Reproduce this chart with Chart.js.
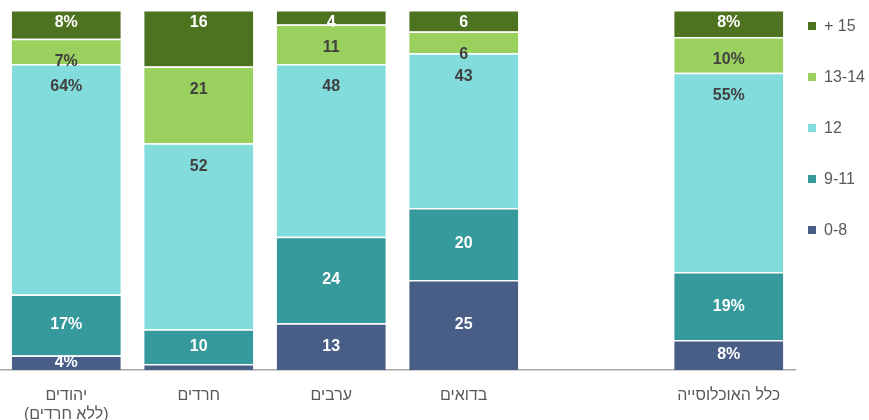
<!DOCTYPE html>
<html>
<head>
<meta charset="utf-8">
<script src="https://cdn.jsdelivr.net/npm/chart.js@4/dist/chart.umd.min.js"></script>
<style>
  html, body { margin: 0; padding: 0; background: #fff; }
  #wrap { width: 869px; height: 420px; position: relative; }
</style>
</head>
<body>
<div id="wrap"><canvas id="c"></canvas></div>
<script>
// categories (empty slot keeps the gap before the total bar)
const categories = [['יהודים', '(ללא חרדים)'], 'חרדים', 'ערבים', 'בדואים', '', 'כלל האוכלוסייה'];
const seriesNames = ['0-8', '9-11', '12', '13-14', '+ 15'];

// share of each years-of-schooling group, percent
const age0_8   = [4, 1.7, 13, 25, null, 8.3];
const age9_11  = [17, 9.6, 24, 20, null, 18.9];
const age12    = [64, 51.7, 48, 43, null, 55.4];
const age13_14 = [7, 21.3, 11, 6, null, 9.9];
const age15    = [8, 15.7, 4, 6, null, 7.5];

const colors = ['#485e87', '#36999b', '#82dcdc', '#99d05e', '#4d7320'];
const labelColors = ['#ffffff', '#ffffff', '#404040', '#404040', '#ffffff'];
const percentBars = [0, 5]; // bars whose labels carry a % sign

const FONT = '"Liberation Sans", Arial, sans-serif';

const valueLabels = {
  id: 'valueLabels',
  afterDatasetsDraw(chart) {
    const ctx = chart.ctx;
    ctx.save();
    ctx.font = 'bold 16px ' + FONT;
    ctx.textAlign = 'center';
    ctx.textBaseline = 'middle';
    chart.data.datasets.forEach((ds, di) => {
      const meta = chart.getDatasetMeta(di);
      meta.data.forEach((bar, i) => {
        const v = ds.data[i];
        if (v == null || v < 3) return;
        const top = Math.min(bar.y, bar.base), bottom = Math.max(bar.y, bar.base);
        let y = (top + bottom) / 2;
        if (di === 2 || di === 3) y = top + 23;
        if (di === 4) y = top + 13;
        let txt = String(Math.round(v));
        if (percentBars.includes(i)) txt += '%';
        ctx.fillStyle = labelColors[di];
        ctx.fillText(txt, bar.x, y);
      });
    });
    ctx.restore();
  }
};

const sideLegend = {
  id: 'sideLegend',
  afterDraw(chart) {
    const ctx = chart.ctx;
    const x0 = chart.chartArea.right + 13;
    let y = chart.chartArea.top + 17;
    ctx.save();
    ctx.font = '16px ' + FONT;
    ctx.textBaseline = 'middle';
    ctx.textAlign = 'left';
    for (let di = chart.data.datasets.length - 1; di >= 0; di--) {
      const ds = chart.data.datasets[di];
      ctx.fillStyle = ds.backgroundColor;
      ctx.fillRect(x0, y - 5, 8, 8);
      ctx.fillStyle = '#595959';
      ctx.fillText(ds.label, x0 + 16, y);
      y += 51;
    }
    ctx.restore();
  }
};

const seriesData = [age0_8, age9_11, age12, age13_14, age15];

new Chart(document.getElementById('c'), {
  type: 'bar',
  data: {
    labels: categories,
    datasets: seriesData.map((d, k) => ({
      label: seriesNames[k],
      data: d,
      backgroundColor: colors[k],
      borderColor: '#ffffff',
      borderWidth: { top: 1.5, left: 0, right: 0, bottom: 0 },
      borderSkipped: false,
      categoryPercentage: 1,
      barPercentage: 0.823
    }))
  },
  options: {
    responsive: true,
    maintainAspectRatio: false,
    animation: false,
    layout: { padding: { top: 10, right: 74, left: 0, bottom: 0 } },
    plugins: {
      legend: { display: false },
      tooltip: { enabled: false }
    },
    scales: {
      x: {
        stacked: true,
        grid: { display: false, drawTicks: false },
        border: { display: true, color: '#a6a6a6', width: 1.5 },
        ticks: { color: '#595959', font: { family: FONT, size: 16 }, padding: 16, maxRotation: 0, autoSkip: false },
        // chart.js counts tick padding twice; keep only the gap above the labels
        afterFit(scale) { scale.height = 50; }
      },
      y: {
        stacked: true,
        display: false,
        min: 0,
        max: 100
      }
    }
  },
  plugins: [valueLabels, sideLegend]
});
</script>
</body>
</html>
